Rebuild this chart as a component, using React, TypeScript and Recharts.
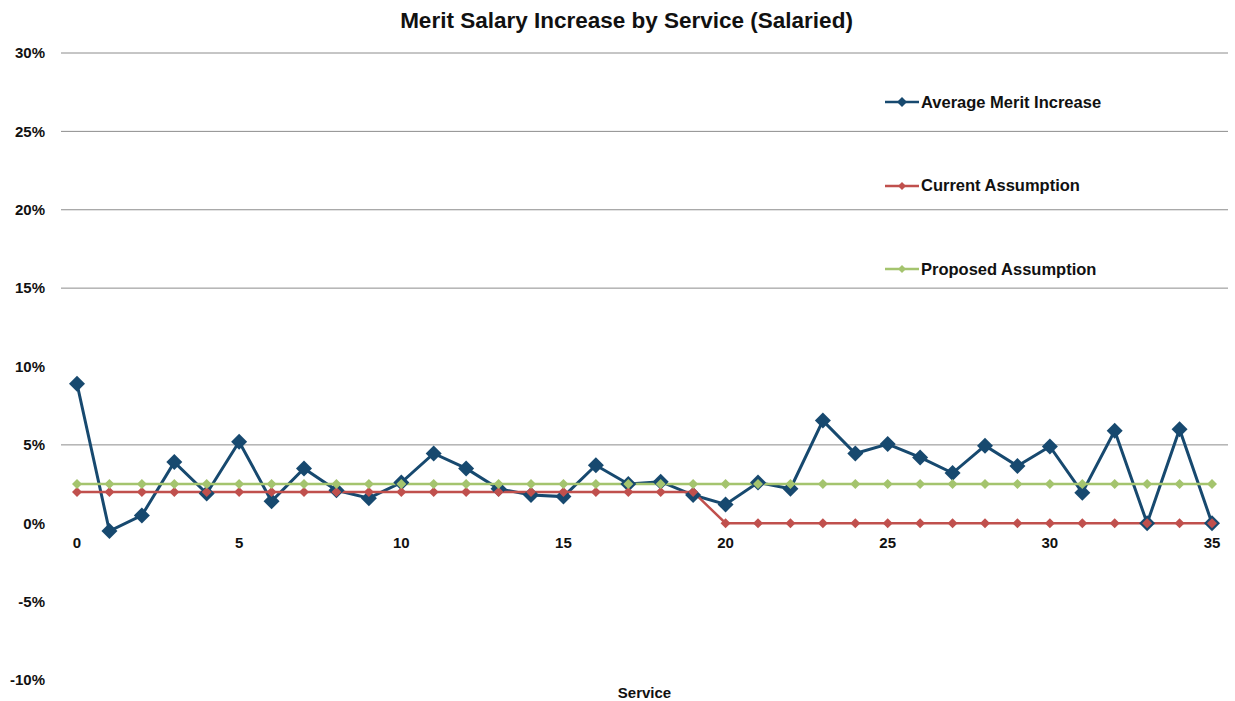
import React from 'react'
import { LineChart, Line, XAxis, YAxis, ReferenceLine } from 'recharts'

const services = [0, 1, 2, 3, 4, 5, 6, 7, 8, 9, 10, 11, 12, 13, 14, 15, 16, 17, 18, 19, 20, 21, 22, 23, 24, 25, 26, 27, 28, 29, 30, 31, 32, 33, 34, 35]
const avgMerit = [8.9, -0.5, 0.5, 3.9, 1.9, 5.2, 1.4, 3.5, 2.1, 1.6, 2.6, 4.45, 3.5, 2.2, 1.8, 1.7, 3.7, 2.5, 2.65, 1.8, 1.2, 2.6, 2.2, 6.55, 4.45, 5.05, 4.2, 3.2, 4.95, 3.65, 4.9, 1.95, 5.9, 0.0, 6.0, 0.0]
const currentAssumption = [2, 2, 2, 2, 2, 2, 2, 2, 2, 2, 2, 2, 2, 2, 2, 2, 2, 2, 2, 2, 0, 0, 0, 0, 0, 0, 0, 0, 0, 0, 0, 0, 0, 0, 0, 0]
const proposedAssumption = [2.5, 2.5, 2.5, 2.5, 2.5, 2.5, 2.5, 2.5, 2.5, 2.5, 2.5, 2.5, 2.5, 2.5, 2.5, 2.5, 2.5, 2.5, 2.5, 2.5, 2.5, 2.5, 2.5, 2.5, 2.5, 2.5, 2.5, 2.5, 2.5, 2.5, 2.5, 2.5, 2.5, 2.5, 2.5, 2.5]
const yTicks = [-10, -5, 0, 5, 10, 15, 20, 25, 30]
const gridValues = [5, 15, 20, 25, 30]
const seriesNames = ['Average Merit Increase', 'Current Assumption', 'Proposed Assumption']

const BLUE = '#17496f'
const RED = '#c0504d'
const GREEN = '#a4c46e'
const FONT = '"Liberation Sans", Arial, sans-serif'

const W = 1235
const H = 701
const MARGIN = { top: 53, right: 7, bottom: 0, left: 0 }
const Y_WIDTH = 61
const X_HEIGHT = 21
const Y_MIN = -10
const Y_MAX = 30

const data = services.map((s, i) => ({
  service: s,
  avg: avgMerit[i],
  current: currentAssumption[i],
  proposed: proposedAssumption[i],
}))

const plotHeight = H - MARGIN.top - MARGIN.bottom - X_HEIGHT
const zeroShift = (plotHeight * (0 - Y_MIN)) / (Y_MAX - Y_MIN)

function diamond(r: number, fill: string) {
  return (props: any) => {
    const { cx, cy, index } = props
    if (cx == null || cy == null) return <g key={index} />
    return (
      <polygon
        key={index}
        points={`${cx},${cy - r} ${cx + r},${cy} ${cx},${cy + r} ${cx - r},${cy}`}
        fill={fill}
      />
    )
  }
}

function XTick(props: any) {
  const { x, y, payload } = props
  if (payload.value % 5 !== 0) return <g />
  return (
    <text x={x} y={y - zeroShift + 17} textAnchor="middle" fontFamily={FONT} fontWeight="bold" fontSize={15} fill="#111">
      {payload.value}
    </text>
  )
}

const legendColors = [BLUE, RED, GREEN]
const legendR = [5, 4, 4]

function LegendBox() {
  return (
    <div style={{ position: 'absolute', left: 884, top: 91, fontFamily: FONT }}>
      {seriesNames.map((name, i) => (
        <div key={name} style={{ display: 'flex', alignItems: 'center', height: 22, marginBottom: i < 2 ? 61.5 : 0 }}>
          <svg width={36} height={12} style={{ marginRight: 1 }}>
            <line x1={1} y1={6} x2={35} y2={6} stroke={legendColors[i]} strokeWidth={2.5} />
            <polygon
              points={`18,${6 - legendR[i]} ${18 + legendR[i]},6 18,${6 + legendR[i]} ${18 - legendR[i]},6`}
              fill={legendColors[i]}
            />
          </svg>
          <span style={{ fontWeight: 'bold', fontSize: 16.5, color: '#111' }}>{name}</span>
        </div>
      ))}
    </div>
  )
}

export default function App() {
  return (
    <div style={{ position: 'absolute', left: 0, top: 0, width: W, height: H, background: '#fff' }}>
      <div
        style={{
          position: 'absolute',
          top: 8,
          left: 0,
          width: W,
          textAlign: 'center',
          fontFamily: FONT,
          fontWeight: 'bold',
          fontSize: 22.5,
          color: '#111',
          paddingLeft: 9,
        }}
      >
        Merit Salary Increase by Service (Salaried)
      </div>
      <LineChart width={W} height={H} data={data} margin={MARGIN}>
        {gridValues.map((v) => (
          <ReferenceLine key={v} y={v} stroke="#8c8c8c" strokeWidth={1} />
        ))}
        <XAxis
          dataKey="service"
          interval={0}
          height={X_HEIGHT}
          padding={{ left: 16, right: 16 }}
          axisLine={false}
          tickLine={false}
          tick={<XTick />}
          label={{ value: 'Service', position: 'insideBottom', offset: 3, fontFamily: FONT, fontWeight: 'bold', fontSize: 15, fill: '#111' }}
        />
        <YAxis
          width={Y_WIDTH}
          domain={[Y_MIN, Y_MAX]}
          ticks={yTicks}
          interval={0}
          axisLine={false}
          tickLine={false}
          tickSize={0}
          tickMargin={16}
          tickFormatter={(v: number) => `${v}%`}
          tick={{ fontFamily: FONT, fontWeight: 'bold', fontSize: 15, fill: '#111' }}
        />
        <Line dataKey="avg" name={seriesNames[0]} stroke={BLUE} strokeWidth={3} dot={diamond(8, BLUE)} isAnimationActive={false} />
        <Line dataKey="current" name={seriesNames[1]} stroke={RED} strokeWidth={2.5} dot={diamond(5, RED)} isAnimationActive={false} />
        <Line dataKey="proposed" name={seriesNames[2]} stroke={GREEN} strokeWidth={2.5} dot={diamond(5, GREEN)} isAnimationActive={false} />
      </LineChart>
      <LegendBox />
    </div>
  )
}
